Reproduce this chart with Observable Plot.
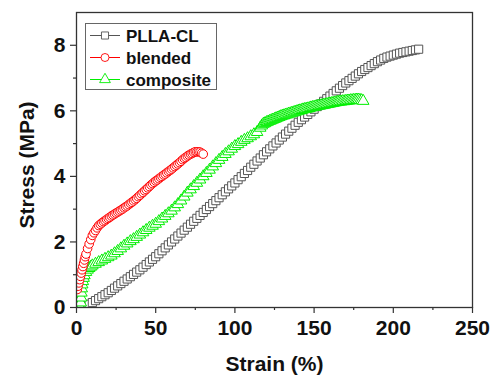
<!DOCTYPE html>
<html>
<head>
<meta charset="utf-8">
<script src="https://cdn.jsdelivr.net/npm/d3@7"></script>
<script src="https://cdn.jsdelivr.net/npm/@observablehq/plot@0.6"></script>
<style>
  html, body { margin: 0; padding: 0; background: white; }
</style>
</head>
<body>
<div id="chart"></div>
<script>
// ---- data (strain %, stress MPa) ----
const seriesNames = ["PLLA-CL", "blended", "composite"];

const pllaCL = [[4,0.00],[6,0.05],[8,0.10],[10,0.15],[12,0.21],[14,0.27],[16,0.33],[18,0.39],[20,0.45],
[22,0.52],[24,0.59],[26,0.66],[28,0.73],[30,0.80],[32,0.87],[34,0.94],[36,1.01],[38,1.08],[40,1.15],
[42,1.23],[44,1.31],[46,1.39],[48,1.47],[50,1.55],[52,1.64],[54,1.73],[56,1.82],[58,1.91],[60,2.00],
[62,2.09],[64,2.18],[66,2.27],[68,2.36],[70,2.45],[72,2.54],[74,2.63],[76,2.72],[78,2.81],[80,2.90],
[82,2.99],[84,3.08],[86,3.17],[88,3.26],[90,3.35],[92,3.44],[94,3.53],[96,3.62],[98,3.71],[100,3.80],
[102,3.90],[104,3.99],[106,4.09],[108,4.18],[110,4.28],[112,4.37],[114,4.47],[116,4.56],[118,4.66],[120,4.75],
[122,4.84],[124,4.93],[126,5.02],[128,5.11],[130,5.20],[132,5.29],[134,5.38],[136,5.47],[138,5.56],[140,5.65],
[142,5.73],[144,5.81],[146,5.89],[148,5.97],[150,6.05],[152,6.13],[154,6.21],[156,6.29],[158,6.37],[160,6.45],
[162,6.53],[164,6.61],[166,6.69],[168,6.77],[170,6.85],[172,6.92],[174,6.99],[176,7.06],[178,7.13],[180,7.20],
[182,7.26],[184,7.32],[186,7.38],[188,7.44],[190,7.50],[192,7.55],[194,7.60],[196,7.64],[198,7.67],[200,7.70],
[202,7.73],[204,7.76],[206,7.78],[208,7.80],[210,7.82],[212,7.84],[214,7.86],[216,7.88]];

const blended = [[0.5,0.55],[1,0.65],[1.5,0.75],[2,0.85],[2.5,0.95],[3,1.05],[3.5,1.15],[4,1.25],[4.5,1.35],
[5,1.45],[5.5,1.55],[6,1.63],[7,1.80],[8,1.94],[9,2.07],[10,2.20],[11,2.28],[12,2.35],[13,2.43],[14,2.50],
[15,2.54],[16,2.58],[17,2.62],[18,2.65],[19,2.69],[20,2.72],[21,2.75],[22,2.79],[23,2.82],[24,2.85],
[25,2.88],[26,2.91],[27,2.94],[28,2.97],[29,3.00],[30,3.04],[31,3.07],[32,3.10],[33,3.14],[34,3.18],
[35,3.21],[36,3.25],[37,3.29],[38,3.33],[39,3.38],[40,3.42],[41,3.47],[42,3.51],[43,3.56],[44,3.60],
[45,3.65],[46,3.69],[47,3.74],[48,3.78],[49,3.82],[50,3.86],[51,3.89],[52,3.93],[53,3.97],[54,4.00],
[55,4.04],[56,4.07],[57,4.11],[58,4.15],[59,4.18],[60,4.22],[61,4.26],[62,4.30],[63,4.34],[64,4.38],
[65,4.42],[66,4.46],[67,4.51],[68,4.55],[69,4.58],[70,4.62],[71,4.65],[72,4.68],[73,4.70],[74,4.73],
[75,4.75],[76,4.75],[77,4.75],[78,4.74],[79,4.71],[80,4.68]];

const composite = [[2.5,0.00],[2.7,0.15],[2.9,0.30],[3.1,0.45],[3.3,0.58],[3.6,0.70],[4,0.80],[4.5,0.90],
[5,0.98],[6,1.08],[7,1.15],[8,1.20],[9,1.24],[10,1.28],[12,1.33],[14,1.38],[16,1.43],[18,1.48],[20,1.53],
[22,1.58],[24,1.65],[26,1.72],[28,1.80],[30,1.88],[32,1.95],[34,2.02],[36,2.08],[38,2.15],[40,2.22],
[42,2.29],[44,2.36],[46,2.43],[48,2.49],[50,2.55],[52,2.63],[54,2.71],[56,2.79],[58,2.87],[60,2.95],
[62,3.05],[64,3.15],[66,3.26],[68,3.38],[70,3.50],[72,3.60],[74,3.70],[76,3.80],[78,3.90],[80,4.00],
[82,4.10],[84,4.20],[86,4.30],[88,4.40],[90,4.50],[92,4.59],[94,4.68],[96,4.76],[98,4.84],[100,4.92],
[102,4.98],[104,5.05],[106,5.11],[108,5.16],[110,5.22],[112,5.28],[114,5.35],[116,5.48],[117,5.55],[118,5.60],
[119,5.62],[120,5.65],[121,5.67],[122,5.69],[123,5.71],[124,5.73],[125,5.75],[126,5.77],[127,5.79],[128,5.81],
[129,5.83],[130,5.85],[131,5.86],[132,5.88],[133,5.89],[134,5.91],[135,5.92],[136,5.94],[137,5.95],[138,5.97],
[139,5.98],[140,6.00],[141,6.01],[142,6.02],[143,6.04],[144,6.05],[145,6.06],[146,6.07],[147,6.08],[148,6.10],
[149,6.11],[150,6.12],[151,6.13],[152,6.14],[153,6.15],[154,6.16],[155,6.17],[156,6.18],[157,6.19],[158,6.20],
[159,6.21],[160,6.22],[161,6.23],[162,6.24],[163,6.25],[164,6.26],[165,6.27],[166,6.28],[167,6.28],[168,6.29],
[169,6.29],[170,6.30],[171,6.31],[172,6.31],[173,6.32],[174,6.32],[175,6.33],[176,6.33],[177,6.34],[178,6.34],
[179,6.33],[180,6.32],[181,6.30]];

const xTicks = [0, 50, 100, 150, 200, 250];
const xMinor = [25, 75, 125, 175, 225];
const yTicks = [0, 2, 4, 6, 8];
const yMinor = [1, 3, 5, 7];

// ---- styles ----
const styles = [
  {symbol: "square",   r: 4.6, stroke: "#555555"},
  {symbol: "circle",   r: 4.3, stroke: "#ff0000"},
  {symbol: "triangle", r: 4.3, stroke: "#00ee00"}
];
const allSeries = [pllaCL, blended, composite];
const drawOrder = [0, 2, 1]; // black, then green, then red on top

const W = 493, H = 376;
const mL = 76, mR = 21, mT = 12, mB = 69;
const axisColor = "#333333";
const fontFam = "'Liberation Sans', Arial, Helvetica, sans-serif";

const dotMarks = drawOrder.map(i =>
  Plot.dot(allSeries[i], {
    x: d => d[0], y: d => d[1],
    symbol: styles[i].symbol, r: styles[i].r,
    stroke: styles[i].stroke, fill: "white", strokeWidth: 1,
    clip: true
  })
);

const chart = Plot.plot({
  width: W, height: H,
  marginLeft: mL, marginRight: mR, marginTop: mT, marginBottom: mB,
  style: {fontFamily: fontFam, fontSize: "21px", fontWeight: "bold", color: "#111", background: "white"},
  x: {domain: [0, 250]},
  y: {domain: [0, 9]},
  marks: [
    Plot.axisX({ticks: xMinor, tickSize: 3, tickFormat: () => "", label: null, stroke: axisColor, strokeWidth: 1.2}),
    Plot.axisX({ticks: xTicks, tickSize: 6, tickPadding: 7, label: null, stroke: axisColor, strokeWidth: 1.2,
                fontSize: 21, fontWeight: "bold", fill: "#111"}),
    Plot.axisY({ticks: yMinor, tickSize: 3, tickFormat: () => "", label: null, stroke: axisColor, strokeWidth: 1.2}),
    Plot.axisY({ticks: yTicks, tickSize: 6, tickPadding: 5, label: null, stroke: axisColor, strokeWidth: 1.2,
                fontSize: 21, fontWeight: "bold", fill: "#111"}),
    ...dotMarks,
    Plot.frame({stroke: axisColor, strokeWidth: 1.3}),
    Plot.text(["Strain (%)"], {frameAnchor: "bottom", dy: 63, lineAnchor: "bottom", textAnchor: "middle",
              fontSize: 21, fontWeight: "bold", fill: "#111"}),
    Plot.text(["Stress (MPa)"], {frameAnchor: "left", rotate: -90, dx: -43, dy: 5, lineAnchor: "bottom",
              textAnchor: "middle", fontSize: 21, fontWeight: "bold", fill: "#111"})
  ]
});

// ---- legend (inside frame, top-left) ----
const svg = d3.select(chart);
const lg = svg.append("g").attr("transform", `translate(${mL + 9},${mT + 11})`);
lg.append("rect").attr("x", 0.5).attr("y", 0.5).attr("width", 131).attr("height", 66)
  .attr("fill", "white").attr("stroke", "#666").attr("stroke-width", 1);
const symMap = {square: d3.symbolSquare, circle: d3.symbolCircle, triangle: d3.symbolTriangle};
seriesNames.forEach((name, i) => {
  const cy = 12.5 + i * 22;
  const row = lg.append("g").attr("transform", `translate(0,${cy})`);
  row.append("line").attr("x1", 5).attr("x2", 35).attr("y1", 0).attr("y2", 0)
     .attr("stroke", styles[i].stroke).attr("stroke-width", 1);
  row.append("path")
     .attr("d", d3.symbol(symMap[styles[i].symbol], Math.PI * 4 * 4)())
     .attr("transform", "translate(20,0)")
     .attr("fill", "white").attr("stroke", styles[i].stroke).attr("stroke-width", 0.9);
  row.append("text").attr("x", 41).attr("y", 6.3).text(name)
     .attr("text-anchor", "start")
     .attr("font-family", fontFam).attr("font-size", 17).attr("font-weight", "bold").attr("fill", "#111");
});

document.getElementById("chart").appendChild(chart);
</script>
</body>
</html>
